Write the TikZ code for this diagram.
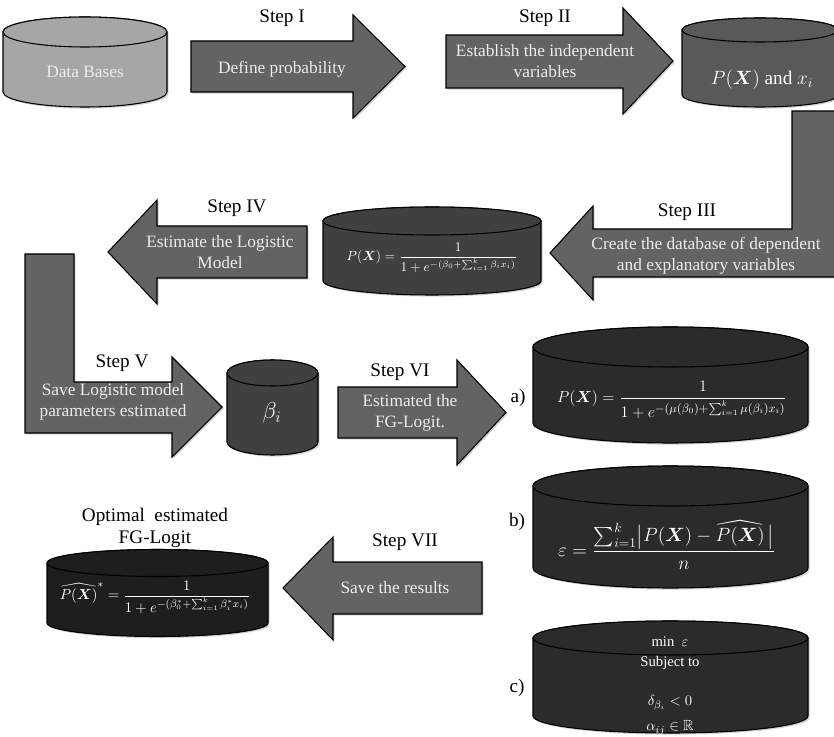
\documentclass[tikz,border=0pt]{standalone}
\usepackage{amsmath,amssymb}
\usepackage{fontspec}
\setmainfont{Liberation Serif}
\usetikzlibrary{shadows}
\definecolor{arrowgray}{RGB}{99,99,99}
\definecolor{txtgray}{RGB}{236,236,236}
\definecolor{dblight}{RGB}{166,166,166}
\definecolor{dbmid}{RGB}{89,89,89}
\definecolor{dbdark}{RGB}{64,64,64}
\definecolor{dbdeep}{RGB}{43,43,43}
\definecolor{dbblack}{RGB}{30,30,30}

\begin{document}
\begin{tikzpicture}[x=0.75pt, y=0.75pt,
    blockarr/.style={draw=black, line width=0.8pt, fill=arrowgray, drop shadow={shadow xshift=1.2pt, shadow yshift=-1.2pt, opacity=0.35}},
    db/.style={draw=black, line width=0.8pt},
    steplbl/.style={font=\fontsize{14.4}{16}\selectfont},
    intxt/.style={text=txtgray, align=center, font=\fontsize{13}{16}\selectfont},
    dbtxt/.style={text=white, align=center},
    itemlbl/.style={font=\fontsize{14.4}{16}\selectfont}
]
\useasboundingbox (0,0) rectangle (834,-737);
\clip (0,0) rectangle (834,-737);

\foreach \cx/\yt/\yb/\rx/\ry/\col in {85/32/92/82/15/dblight, 760/30/95/78/12/dbmid, 432/221/281/109/14/dbdark, 272.5/373/442/45.5/13/dbdark, 670.5/347/423/137.5/20/dbdeep, 670.5/486/568/137.5/20/dbdeep, 670.5/638/716/137.5/17/dbdeep, 157.5/563/623/110.5/13.5/dbblack}{
  \path[db, fill=\col, drop shadow={shadow xshift=1.2pt, shadow yshift=-1.2pt, opacity=0.35}] (\cx-\rx,-\yt) arc[start angle=180, end angle=0, x radius=\rx, y radius=\ry] -- (\cx+\rx,-\yb) arc[start angle=0, end angle=-180, x radius=\rx, y radius=\ry] -- cycle;
  \draw[db, fill=\col] (\cx,-\yt) ellipse[x radius=\rx, y radius=\ry];
}

\path[blockarr] (191,-41) -- (353,-41) -- (353,-15) -- (405,-66.5) -- (353,-118) -- (353,-92) -- (191,-92) -- cycle;
\path[blockarr] (446,-35) -- (623,-35) -- (623,-8) -- (673,-61) -- (623,-114) -- (623,-88) -- (446,-88) -- cycle;
\path[blockarr] (792,-111) -- (845,-111) -- (845,-277) -- (593,-277) -- (593,-300) -- (550,-253) -- (593,-206) -- (593,-229) -- (792,-229) -- cycle;
\path[blockarr] (307,-226) -- (157,-226) -- (157,-200) -- (108,-252) -- (157,-304) -- (157,-278) -- (307,-278) -- cycle;
\path[blockarr] (25,-254) -- (74,-254) -- (74,-382) -- (172,-382) -- (172,-357) -- (222,-407) -- (172,-457) -- (172,-433) -- (25,-433) -- cycle;
\path[blockarr] (338,-387) -- (457,-387) -- (457,-360) -- (506,-412.5) -- (457,-465) -- (457,-438) -- (338,-438) -- cycle;
\path[blockarr] (482,-562) -- (333,-562) -- (333,-537) -- (283,-588) -- (333,-640) -- (333,-614) -- (482,-614) -- cycle;

\node[steplbl] (s1) at (282,-18) {Step I};
\node[steplbl] (s2) at (545,-18) {Step II};
\node[steplbl] (s3) at (687,-212) {Step III};
\node[steplbl] (s4) at (237,-208) {Step IV};
\node[steplbl] (s5) at (122,-363) {Step V};
\node[steplbl] (s6) at (400,-372) {Step VI};
\node[steplbl] (s7) at (405,-542) {Step VII};

\node[intxt] (t1) at (282,-69) {Define probability};
\node[intxt] (t2) at (545,-61) {Establish the independent\\variables};
\node[intxt] (t3) at (706,-256) {Create the database of dependent\\and explanatory variables};
\node[intxt] (t4) at (220,-252) {Estimate the Logistic\\Model};
\node[intxt] (t5) at (113,-402) {Save Logistic model\\parameters estimated};
\node[intxt] (t6) at (410,-413) {Estimated the\\FG-Logit.};
\node[intxt] (t7) at (395,-588) {Save the results};

\node[intxt] (data) at (85,-72) {Data Bases};
\node[dbtxt, font=\fontsize{14.4}{17}\selectfont] (px) at (762,-80) {$P(\boldsymbol{X})$ and $x_i$};
\node[dbtxt, font=\fontsize{10}{12}\selectfont] (logit) at (432,-258) {$P(\boldsymbol{X})=\dfrac{1}{1+e^{-(\beta_0+\sum_{i=1}^{k}\beta_i x_i)}}$};
\node[dbtxt, font=\fontsize{17}{20}\selectfont] (beta) at (272,-413) {$\beta_i$};
\node[dbtxt, font=\fontsize{13}{16}\selectfont] (fga) at (672,-400) {$P(\boldsymbol{X})=\dfrac{1}{1+e^{-(\mu(\beta_0)+\sum_{i=1}^{k}\mu(\beta_i)x_i)}}$};
\node[dbtxt, font=\fontsize{14.5}{18}\selectfont] (fgb) at (667,-545) {$\varepsilon=\dfrac{\sum_{i=1}^{k}\bigl|P(\boldsymbol{X})-\widehat{P(\boldsymbol{X})}\,\bigr|}{n}$};
\node[dbtxt, font=\fontsize{11}{13}\selectfont] (fgc1) at (670,-642) {min\ \ $\varepsilon$};
\node[dbtxt, font=\fontsize{11}{13}\selectfont] (fgc2) at (670,-663) {Subject to};
\node[dbtxt, font=\fontsize{11}{13}\selectfont] (fgc3) at (670,-703) {$\delta_{\beta_i}<0$};
\node[dbtxt, font=\fontsize{11}{13}\selectfont] (fgc4) at (670,-728) {$\alpha_{ij}\in\mathbb{R}$};
\node[dbtxt, font=\fontsize{11}{13}\selectfont] (best) at (155,-597) {$\widehat{P(\boldsymbol{X})}^{*}=\dfrac{1}{1+e^{-(\beta_0^{*}+\sum_{i=1}^{k}\beta_i^{*}x_i)}}$};
\node[steplbl, align=center] (opt) at (155,-528) {Optimal\ \ estimated\\FG-Logit};

\node[itemlbl] (la) at (518,-398) {a)};
\node[itemlbl] (lb) at (517,-522) {b)};
\node[itemlbl] (lc) at (517,-688) {c)};
\end{tikzpicture}
\end{document}
